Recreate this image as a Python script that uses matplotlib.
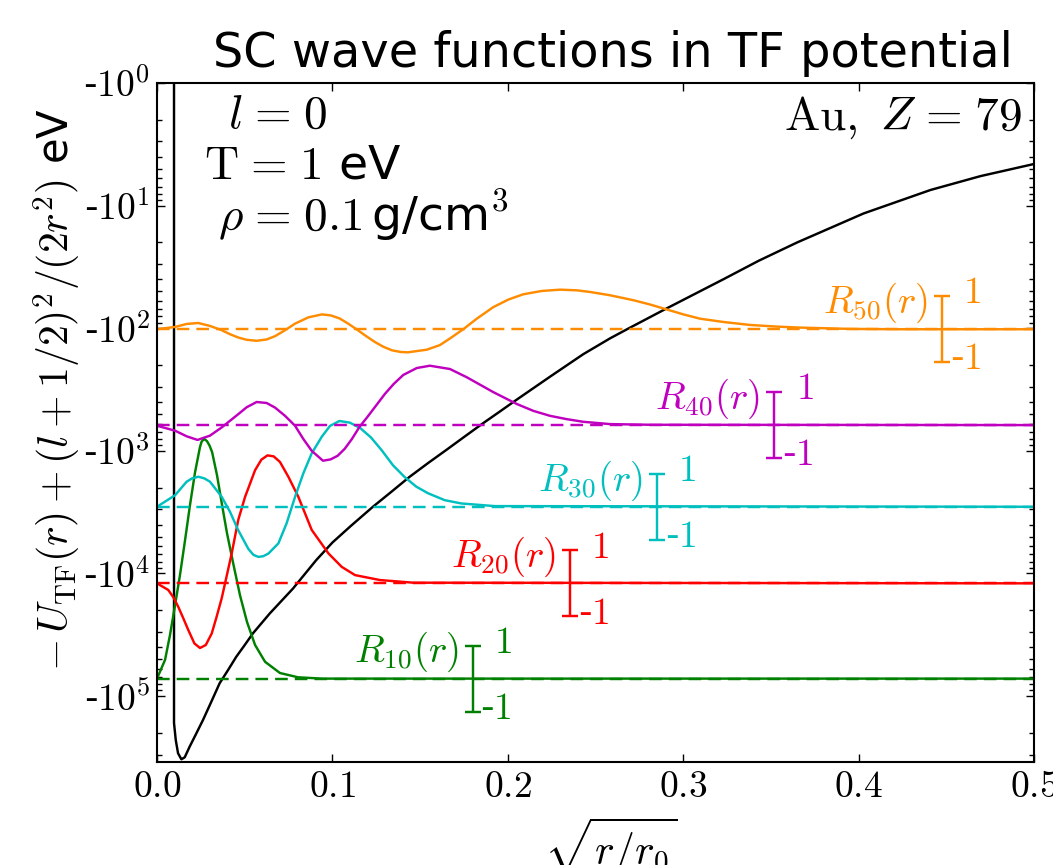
import numpy as np
import matplotlib
matplotlib.use("Agg")
import matplotlib.pyplot as plt
from matplotlib.ticker import FixedLocator, FuncFormatter, LogLocator, NullFormatter

plt.rcParams["mathtext.fontset"] = "cm"
plt.rcParams["font.family"] = ["DejaVu Sans"]

# effective potential  -U_TF(r) + (l+1/2)^2/(2r^2), magnitude in eV (axis shows negative values)
x_pot = [0.0097, 0.0097, 0.0107, 0.0120, 0.0139, 0.0158, 0.0186, 0.0224, 0.0262,
         0.0310, 0.0357, 0.0405, 0.0452, 0.0500, 0.0547, 0.0643, 0.0775, 0.0908,
         0.1000, 0.1105, 0.1231, 0.1336, 0.1440, 0.1545, 0.1649, 0.1753, 0.1858,
         0.1953, 0.2048, 0.2240, 0.2430, 0.2583, 0.2691, 0.2896, 0.3229, 0.3430,
         0.3649, 0.4028, 0.4410, 0.4695, 0.5]
e_pot = [0.3, 1.66e5, 2.29e5, 2.93e5, 3.28e5, 3.16e5, 2.59e5, 2.02e5, 1.57e5,
         1.11e5, 7.87e4, 6.14e4, 4.78e4, 3.84e4, 3.08e4, 2.12e4, 1.33e4, 7.78e3,
         5.6e3, 4.1e3, 2.86e3, 2.16e3, 1.63e3, 1.26e3, 985, 767, 597,
         480, 385, 249, 163, 121, 100, 70.1, 39.9, 28.2,
         20.0, 11.6, 7.46, 5.75, 4.58]

# wave functions (in units of the scale bar, -1..1 per bar)
x_r10 = [0.0, 0.0046, 0.0074, 0.0103, 0.0131, 0.0160, 0.0188, 0.0217, 0.0245, 0.0254,
         0.0262, 0.0271, 0.0285, 0.0299, 0.0314, 0.0342, 0.0371, 0.0399, 0.0433,
         0.0473, 0.0513, 0.0559, 0.0616, 0.0701, 0.0804, 0.0941, 0.5]
r10 = [0.0, 0.57, 1.32, 2.23, 3.14, 4.20, 5.26, 6.26, 7.02, 7.18,
       7.23, 7.26, 7.20, 7.07, 6.87, 6.17, 5.26, 4.41, 3.53,
       2.53, 1.72, 1.02, 0.51, 0.17, 0.04, 0.0, 0.0]

x_r20 = [0.0, 0.0064, 0.0093, 0.0121, 0.0150, 0.0178, 0.0213, 0.0245, 0.0278, 0.0312,
         0.0340, 0.0369, 0.0426, 0.0463, 0.0502, 0.0559, 0.0595, 0.0630, 0.0665,
         0.0701, 0.0749, 0.0806, 0.0882, 0.0977, 0.1053, 0.1129, 0.1176, 0.1271,
         0.1461, 0.5]
r20 = [0.0, -0.20, -0.42, -0.71, -1.06, -1.41, -1.82, -1.96, -1.87, -1.52,
       -1.01, -0.45, 0.91, 1.92, 2.62, 3.43, 3.75, 3.88, 3.85,
       3.68, 3.23, 2.62, 1.62, 0.91, 0.50, 0.25, 0.20, 0.10,
       0.02, 0.0]

x_r30 = [0.0, 0.0103, 0.0169, 0.0200, 0.0236, 0.0270, 0.0302, 0.0369, 0.0416, 0.0463,
         0.0521, 0.0550, 0.0578, 0.0605, 0.0635, 0.0692, 0.0739, 0.0787, 0.0834,
         0.0882, 0.0939, 0.0986, 0.1040, 0.1100, 0.1160, 0.1220, 0.1280, 0.1345,
         0.1410, 0.1478, 0.1545, 0.1640, 0.1735, 0.1925, 0.5]
r30 = [0.0, 0.35, 0.76, 0.86, 0.91, 0.86, 0.76, 0.30, -0.15, -0.71,
       -1.28, -1.46, -1.52, -1.50, -1.42, -1.11, -0.50, 0.30, 1.01,
       1.62, 2.12, 2.45, 2.60, 2.55, 2.38, 2.10, 1.72, 1.26,
       0.91, 0.61, 0.41, 0.20, 0.10, 0.02, 0.0]

x_r40 = [0.0, 0.0103, 0.0169, 0.0231, 0.0302, 0.0369, 0.0416, 0.0463, 0.0511, 0.0568,
         0.0625, 0.0673, 0.0730, 0.0787, 0.0834, 0.0882, 0.0946, 0.0990, 0.1030,
         0.1070, 0.1110, 0.1155, 0.1200, 0.1250, 0.1300, 0.1350, 0.1404, 0.1481,
         0.1556, 0.1670, 0.1766, 0.1917, 0.2051, 0.2146, 0.2241, 0.2336, 0.2430,
         0.2583, 0.2811, 0.5]
r40 = [-0.02, -0.17, -0.34, -0.45, -0.32, -0.07, 0.13, 0.33, 0.54, 0.70,
       0.67, 0.53, 0.28, -0.02, -0.42, -0.78, -1.08, -1.04, -0.93,
       -0.72, -0.43, -0.05, 0.25, 0.60, 0.95, 1.25, 1.52, 1.73,
       1.80, 1.70, 1.45, 1.00, 0.64, 0.43, 0.28, 0.18, 0.10,
       0.03, 0.01, 0.0]

x_r50 = [0.0, 0.0103, 0.0169, 0.0235, 0.0302, 0.0369, 0.0416, 0.0463, 0.0511, 0.0568,
         0.0625, 0.0673, 0.0730, 0.0787, 0.0863, 0.0940, 0.0990, 0.1040, 0.1090,
         0.1140, 0.1190, 0.1240, 0.1290, 0.1340, 0.1390, 0.1430, 0.1538, 0.1613,
         0.1670, 0.1746, 0.1823, 0.1917, 0.2003, 0.2088, 0.2193, 0.2298, 0.2393,
         0.2469, 0.2583, 0.2716, 0.2811, 0.2906, 0.3001, 0.3096, 0.3229, 0.3381,
         0.3533, 0.3666, 0.3951, 0.4236, 0.5]
r50 = [0.0, 0.07, 0.16, 0.19, 0.10, -0.03, -0.15, -0.25, -0.32, -0.35,
       -0.31, -0.21, -0.03, 0.17, 0.36, 0.45, 0.42, 0.33, 0.17,
       -0.01, -0.20, -0.38, -0.53, -0.64, -0.69, -0.70, -0.62, -0.48,
       -0.28, 0.0, 0.32, 0.67, 0.90, 1.06, 1.16, 1.20, 1.18,
       1.13, 1.03, 0.88, 0.75, 0.60, 0.45, 0.32, 0.22, 0.13,
       0.08, 0.05, 0.01, 0.0, 0.0]

# energy levels (magnitude, eV) and scale bar positions
levels = [72100, 12050, 2860, 617, 102]
bar_x = [0.180, 0.2355, 0.285, 0.352, 0.4475]
names = ["10", "20", "30", "40", "50"]
colors = ["g", "r", "c", "m", "darkorange"]
waves = [(x_r10, r10), (x_r20, r20), (x_r30, r30), (x_r40, r40), (x_r50, r50)]
K = 0.269  # decades per unit of R

fig = plt.figure(figsize=(10.53, 8.65), dpi=100)
ax = fig.add_axes([0.1491, 0.1191, 0.8329, 0.785])

ax.plot(x_pot, e_pot, color="k", lw=1.75)

for (xs, rs), lev, bx, nm, c in zip(waves, levels, bar_x, names, colors):
    ax.axhline(lev, color=c, lw=1.75, ls=(0, (5.2, 2.9)))
    ys = lev * 10 ** (-K * np.array(rs))
    ax.plot(xs, ys, color=c, lw=1.75)
    lo, hi = lev * 10 ** (-K), lev * 10 ** K
    ax.errorbar([bx], [lev], yerr=[[lev - lo], [hi - lev]], fmt="none",
                ecolor=c, elinewidth=1.75, capsize=6, capthick=1.75)
    ax.annotate(r"$R_{%s}(r)$" % nm, xy=(bx, lev), xytext=(-10, 3),
                textcoords="offset points", ha="right", va="bottom",
                color=c, fontsize=28)
    ax.annotate(r"$1$", xy=(bx, lo), xytext=(28, 2), textcoords="offset points",
                ha="right", va="center", color=c, fontsize=27)
    ax.annotate(r"-$1$", xy=(bx, hi), xytext=(28, 2), textcoords="offset points",
                ha="right", va="center", color=c, fontsize=27)

ax.set_yscale("log")
ax.set_ylim(3.45e5, 1)
ax.set_xlim(0, 0.5)
ax.yaxis.set_major_locator(FixedLocator([10.0 ** k for k in range(6)]))
ax.yaxis.set_minor_locator(LogLocator(base=10, subs=np.arange(2, 10)))
ax.yaxis.set_minor_formatter(NullFormatter())
ax.yaxis.set_major_formatter(FuncFormatter(lambda v, p: "-$10^{%d}$" % round(np.log10(v))))
ax.xaxis.set_major_locator(FixedLocator([0, 0.1, 0.2, 0.3, 0.4, 0.5]))
ax.xaxis.set_major_formatter(FuncFormatter(lambda v, p: "$%.1f$" % v))

ax.tick_params(which="both", direction="in", top=True, right=True, width=1)
ax.tick_params(which="major", length=6, labelsize=27, pad=5)
ax.tick_params(which="minor", length=3.5)
for s in ax.spines.values():
    s.set_linewidth(1.5)

eq = r"\hspace{0.1}=\hspace{0.1}"
ax.set_title("SC wave functions in TF potential", fontsize=34.5, x=0.52, pad=11.5)
ax.set_xlabel(r"$\sqrt{r/r_0}$", fontsize=30)
ax.xaxis.set_label_coords(0.518, -0.079)
ax.set_ylabel(r"$-\,U_{\rm TF}(r) + (l+1/2)^2/(2r^2)$ eV", fontsize=30)
ax.yaxis.set_label_coords(-0.084, 0.548)

ax.text(0.081, 0.934, r"$l%s0$" % eq, transform=ax.transAxes, fontsize=34, va="baseline")
ax.text(0.054, 0.860, r"$\mathrm{T}%s1$ eV" % eq, transform=ax.transAxes, fontsize=34,
        va="baseline")
ax.text(0.070, 0.7835, r"$\rho%s0.1\,$g/cm$^3$" % eq, transform=ax.transAxes, fontsize=34,
        va="baseline")
ax.text(0.986, 0.931, r"$\mathrm{Au},\ Z%s79$" % eq, transform=ax.transAxes, fontsize=34,
        ha="right", va="baseline")

fig.savefig("out.png", dpi=100)
